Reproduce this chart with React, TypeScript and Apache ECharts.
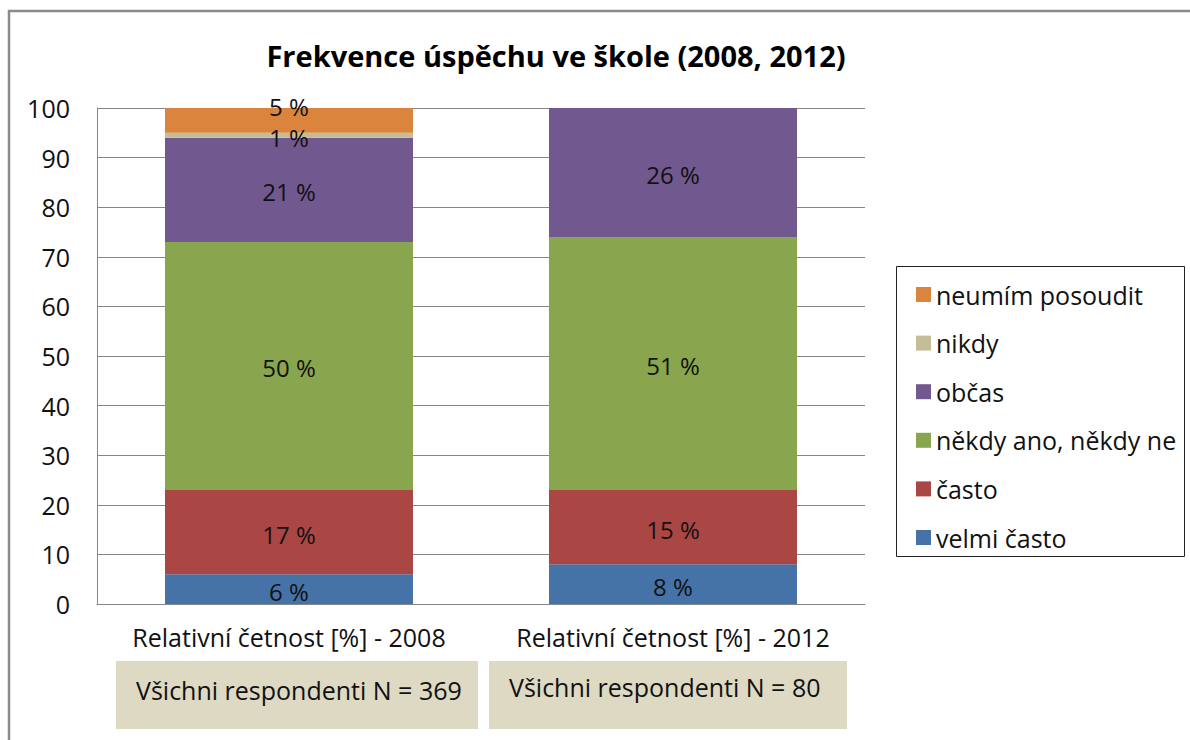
import React, { useEffect, useRef } from "react";
import * as echarts from "echarts";

const categories = ["Relativní četnost [%] - 2008", "Relativní četnost [%] - 2012"];
const seriesNames = ["velmi často", "často", "někdy ano, někdy ne", "občas", "nikdy", "neumím posoudit"];
const velmiCasto = [6, 8];
const casto = [17, 15];
const nekdy = [50, 51];
const obcas = [21, 26];
const nikdy = [1, 0];
const neumim = [5, 0];
const respondents = ["Všichni respondenti N = 369", "Všichni respondenti N = 80"];
const title = "Frekvence úspěchu ve škole (2008, 2012)";

const colors = ["#4572a7", "#aa4643", "#89a54e", "#71588f", "#c4bd97", "#db843d"];
const FONT = "'Open Sans', Lato, sans-serif";

export default function App() {
  const ref = useRef<HTMLDivElement>(null);
  useEffect(() => {
    if (!ref.current) return;
    const chart = echarts.init(ref.current, null, { renderer: "svg" });
    const values = [velmiCasto, casto, nekdy, obcas, nikdy, neumim];
    const series = values.map((v, i) => ({
      name: seriesNames[i],
      type: "bar",
      stack: "total",
      barWidth: 248,
      data: v,
      itemStyle: { color: colors[i] },
      label: {
        show: true,
        position: "inside",
        offset: i === 5 ? [0, -14] : [0, 2],
        color: "#111",
        fontFamily: FONT,
        fontSize: 24,
        formatter: (p: any) => (p.value ? `${p.value} %` : ""),
      },
    }));
    chart.setOption({
      animation: false,
      textStyle: { fontFamily: FONT },
      grid: { left: 97, right: 325, top: 108, bottom: 136, containLabel: false },
      xAxis: {
        type: "category",
        data: categories,
        axisLine: { lineStyle: { color: "#868686", width: 1 } },
        axisTick: { show: false },
        axisLabel: { color: "#111", fontSize: 25, fontFamily: FONT, margin: 20, interval: 0 },
      },
      yAxis: {
        type: "value",
        min: 0,
        max: 100,
        interval: 10,
        axisLine: { show: true, lineStyle: { color: "#868686", width: 1 } },
        axisTick: { show: false },
        splitLine: { lineStyle: { color: "#868686", width: 1 } },
        axisLabel: { color: "#111", fontSize: 25, fontFamily: FONT, margin: 27 },
      },
      legend: {
        orient: "vertical",
        left: 911,
        top: 276,
        data: [...seriesNames].reverse(),
        icon: "rect",
        itemWidth: 15,
        itemHeight: 15,
        itemGap: 21.6,
        textStyle: { color: "#111", fontSize: 25, fontFamily: FONT, lineHeight: 27 },
      },
      graphic: [
        {
          type: "rect",
          shape: { x: 9, y: 11, width: 1300, height: 900 },
          style: { fill: "none", stroke: "#8a8a8a", lineWidth: 2.5 },
          silent: true,
        },
        {
          type: "rect",
          shape: { x: 896.5, y: 266.5, width: 288, height: 290 },
          style: { fill: "none", stroke: "#222", lineWidth: 1 },
          silent: true,
        },
        {
          type: "text",
          x: 556,
          y: 55,
          style: {
            text: title,
            fill: "#000",
            font: `bold 29px ${FONT}`,
            textAlign: "center",
            textVerticalAlign: "middle",
          },
        },
        {
          type: "rect",
          shape: { x: 116, y: 661, width: 362, height: 68 },
          style: { fill: "#ddd9c3" },
        },
        {
          type: "rect",
          shape: { x: 489, y: 661, width: 358, height: 68 },
          style: { fill: "#ddd9c3" },
        },
        {
          type: "text",
          x: 136,
          y: 690,
          style: { text: respondents[0], fill: "#111", font: `25px ${FONT}`, textVerticalAlign: "middle" },
        },
        {
          type: "text",
          x: 509,
          y: 687,
          style: { text: respondents[1], fill: "#111", font: `25px ${FONT}`, textVerticalAlign: "middle" },
        },
      ],
      series,
    });
    return () => chart.dispose();
  }, []);
  return (
    <div
      ref={ref}
      style={{ position: "fixed", left: 0, top: 0, width: 1190, height: 740, background: "#fff" }}
    />
  );
}
